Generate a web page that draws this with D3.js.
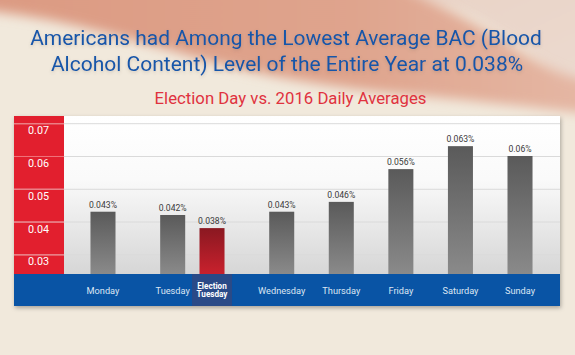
<!DOCTYPE html>
<html>
<head>
<meta charset="utf-8">
<script src="https://cdn.jsdelivr.net/npm/d3@7"></script>
<style>
  html, body { margin: 0; padding: 0; background: #f1e9dc; }
  svg { display: block; }
</style>
</head>
<body>
<svg id="chart" width="575" height="355"></svg>
<script>
// ---- data ----
const categories = ["Monday", "Tuesday", "Election Tuesday", "Wednesday", "Thursday", "Friday", "Saturday", "Sunday"];
const values = [0.043, 0.042, 0.038, 0.043, 0.046, 0.056, 0.063, 0.060];
const valueLabels = ["0.043%", "0.042%", "0.038%", "0.043%", "0.046%", "0.056%", "0.063%", "0.06%"];
const yTicks = [0.03, 0.04, 0.05, 0.06, 0.07];
const yTickLabels = ["0.03", "0.04", "0.05", "0.06", "0.07"];
const highlight = "Election Tuesday";
const pairedWith = "Tuesday";
const titleLines = ["Americans had Among the Lowest Average BAC (Blood", "Alcohol Content) Level of the Entire Year at 0.038%"];
const subtitle = "Election Day vs. 2016 Daily Averages";

// ---- layout ----
const W = 575, H = 355;
const panel = { x0: 14, x1: 560, y0: 116, y1: 306 };
const axisColW = 50;
const baseY = 274;
const FONT = "Roboto, 'Open Sans', sans-serif";

// scale a text's font size so its width hits a target
function fitSize(sel, base, target) {
  const len = sel.node().getComputedTextLength();
  return base * target / len;
}

const svg = d3.select("#chart");
const defs = svg.append("defs");

// background swoosh gradient
const sg = defs.append("linearGradient").attr("id", "swoosh").attr("x1", 0).attr("y1", 0).attr("x2", 1).attr("y2", 0);
sg.append("stop").attr("offset", "0%").attr("stop-color", "#dc9a82");
sg.append("stop").attr("offset", "60%").attr("stop-color", "#dfa48d");
sg.append("stop").attr("offset", "100%").attr("stop-color", "#e5b8a5");
const blur = defs.append("filter").attr("id", "blur").attr("x", "-20%").attr("y", "-50%").attr("width", "140%").attr("height", "200%");
blur.append("feGaussianBlur").attr("stdDeviation", 6);

const topRight = defs.append("linearGradient").attr("id", "topright").attr("x1", 0).attr("y1", 0).attr("x2", 1).attr("y2", 1);
topRight.append("stop").attr("offset", "0%").attr("stop-color", "#e8d0c3");
topRight.append("stop").attr("offset", "100%").attr("stop-color", "#ecdcd1");

const pg = defs.append("linearGradient").attr("id", "plotbg").attr("x1", 0).attr("y1", 0).attr("x2", 0).attr("y2", 1);
pg.append("stop").attr("offset", "0%").attr("stop-color", "#ffffff");
pg.append("stop").attr("offset", "40%").attr("stop-color", "#fafafa");
pg.append("stop").attr("offset", "100%").attr("stop-color", "#d6d6d6");

const bg = defs.append("linearGradient").attr("id", "barGrey").attr("x1", 0).attr("y1", 0).attr("x2", 0).attr("y2", 1);
bg.append("stop").attr("offset", "0%").attr("stop-color", "#5a5a5a");
bg.append("stop").attr("offset", "100%").attr("stop-color", "#8a8a8a");
const br = defs.append("linearGradient").attr("id", "barRed").attr("x1", 0).attr("y1", 0).attr("x2", 0).attr("y2", 1);
br.append("stop").attr("offset", "0%").attr("stop-color", "#8a1821");
br.append("stop").attr("offset", "100%").attr("stop-color", "#c9212d");

const shadow = defs.append("filter").attr("id", "shadow").attr("x", "-5%").attr("y", "-5%").attr("width", "110%").attr("height", "120%");
shadow.append("feDropShadow").attr("dx", 1).attr("dy", 2).attr("stdDeviation", 2).attr("flood-color", "#000").attr("flood-opacity", 0.3);

const tshadow = defs.append("filter").attr("id", "tshadow").attr("x", "-5%").attr("y", "-30%").attr("width", "110%").attr("height", "160%");
tshadow.append("feDropShadow").attr("dx", 0).attr("dy", 1.5).attr("stdDeviation", 1.5).attr("flood-color", "#6b5a50").attr("flood-opacity", 0.25);

// background
svg.append("rect").attr("width", W).attr("height", H).attr("fill", "#f1e9dc");
svg.append("path")
  .attr("d", "M300,-20 L600,-20 L600,120 C560,80 520,40 470,15 C430,0 390,-5 300,-20 Z")
  .attr("fill", "url(#topright)").attr("filter", "url(#blur)");
svg.append("path")
  .attr("d", "M-20,-20 L385,-20 C430,0 470,20 510,45 C540,65 560,75 600,85 L600,115 C540,108 470,100 400,94 C320,86 250,74 170,50 C110,34 60,18 -20,10 Z")
  .attr("fill", "url(#swoosh)").attr("filter", "url(#blur)");

// titles
const titleG = svg.append("g").attr("filter", "url(#tshadow)");
const titleTargets = [{ w: 512, cx: 286, y: 45 }, { w: 475, cx: 287, y: 70.5 }];
titleLines.forEach((t, i) => {
  const tx = titleG.append("text")
    .attr("x", titleTargets[i].cx).attr("y", titleTargets[i].y)
    .attr("text-anchor", "middle")
    .attr("font-family", FONT)
    .attr("font-size", 20)
    .attr("fill", "#1656a9")
    .text(t);
  tx.attr("font-size", Math.min(21, fitSize(tx, 20, titleTargets[i].w)));
});
const st = svg.append("text")
  .attr("x", 290.5).attr("y", 104)
  .attr("text-anchor", "middle")
  .attr("font-family", FONT)
  .attr("font-size", 16)
  .attr("fill", "#e0323e")
  .text(subtitle);
st.attr("font-size", fitSize(st, 16, 272));

// panel
svg.append("rect")
  .attr("x", panel.x0).attr("y", panel.y0)
  .attr("width", panel.x1 - panel.x0).attr("height", panel.y1 - panel.y0)
  .attr("fill", "#fff").attr("filter", "url(#shadow)");
svg.append("rect")
  .attr("x", panel.x0 + axisColW).attr("y", panel.y0)
  .attr("width", panel.x1 - panel.x0 - axisColW).attr("height", baseY - panel.y0)
  .attr("fill", "url(#plotbg)");
svg.append("rect")
  .attr("x", panel.x0).attr("y", panel.y0)
  .attr("width", axisColW).attr("height", baseY - panel.y0)
  .attr("fill", "#e21f2e");

// scales
const y = d3.scaleLinear().domain([0.024, 0.0722]).range([baseY, panel.y0]);
const x = d3.scaleBand().domain(categories).range([73.2, 549.8]).paddingInner(0.58).paddingOuter(0.29);
const nudge = x.step() * 0.17;
const cx = c => x(c) + x.bandwidth() / 2 + (c === pairedWith ? nudge : c === highlight ? -nudge : 0);

// y axis / grid
const yAxis = d3.axisRight(y).tickValues(yTicks).tickSize(panel.x1 - panel.x0).tickFormat((d, i) => yTickLabels[i]);
const yg = svg.append("g").attr("transform", `translate(${panel.x0},0)`).call(yAxis);
yg.select(".domain").remove();
yg.selectAll(".tick line").attr("stroke", "#dadada").attr("stroke-width", 1);
yg.selectAll(".tick").append("line")
  .attr("x1", 0).attr("x2", axisColW).attr("stroke", "#f07078").attr("stroke-width", 1);
const yText = yg.selectAll(".tick text")
  .attr("x", 14).attr("dy", 10.5).attr("text-anchor", "start")
  .attr("font-family", FONT).attr("font-size", 12)
  .attr("fill", "#ffffff");
const ySize = fitSize(yText.filter((d, i) => i === 4), 12, 21);
yText.attr("font-size", ySize);

// bars
const data = categories.map((c, i) => ({ c, v: values[i], label: valueLabels[i] }));
svg.append("g").selectAll("rect").data(data).join("rect")
  .attr("x", d => cx(d.c) - x.bandwidth() / 2)
  .attr("y", d => y(d.v))
  .attr("width", x.bandwidth())
  .attr("height", d => baseY - y(d.v))
  .attr("fill", d => d.c === highlight ? "url(#barRed)" : "url(#barGrey)");

const vText = svg.append("g").selectAll("text").data(data).join("text")
  .attr("x", d => cx(d.c))
  .attr("y", d => y(d.v) - 4)
  .attr("text-anchor", "middle")
  .attr("font-family", FONT)
  .attr("font-size", 10)
  .attr("fill", "#3a3a3a")
  .text(d => d.label);
vText.attr("font-size", fitSize(vText.filter((d, i) => i === 0), 10, 28));

// x band
svg.append("rect")
  .attr("x", panel.x0).attr("y", baseY)
  .attr("width", panel.x1 - panel.x0).attr("height", panel.y1 - baseY)
  .attr("fill", "#0954a5");
svg.append("rect")
  .attr("x", cx(highlight) - 20).attr("y", baseY)
  .attr("width", 40).attr("height", panel.y1 - baseY)
  .attr("fill", "#2a4a87");

const xAxis = d3.axisBottom(d3.scalePoint().domain(categories).range([0, 1])).tickSize(0);
const xg = svg.append("g").attr("transform", `translate(0,${baseY})`).call(xAxis);
xg.select(".domain").remove();
xg.selectAll(".tick").attr("transform", d => `translate(${cx(d)},0)`);
const xText = xg.selectAll(".tick text")
  .attr("y", 20).attr("dy", 0)
  .attr("font-family", FONT)
  .attr("font-size", 10)
  .attr("fill", "#dce6f3");
const xSize = fitSize(xText.filter(d => d === "Wednesday"), 10, 47.3);
xText.attr("font-size", xSize);
xText.filter(d => d === highlight).each(function(d) {
  const t = d3.select(this).text("").attr("font-weight", "bold").attr("font-size", 9).attr("fill", "#ffffff").attr("y", null);
  const parts = d.split(" ");
  t.append("tspan").attr("x", 0).attr("y", 15.3).text(parts[0]);
  const t2 = t.append("tspan").attr("x", 0).attr("y", 23.2).text(parts[1]);
  const len = t2.node().getComputedTextLength();
  t.attr("font-size", 9 * 31 / len);
});
</script>
</body>
</html>
